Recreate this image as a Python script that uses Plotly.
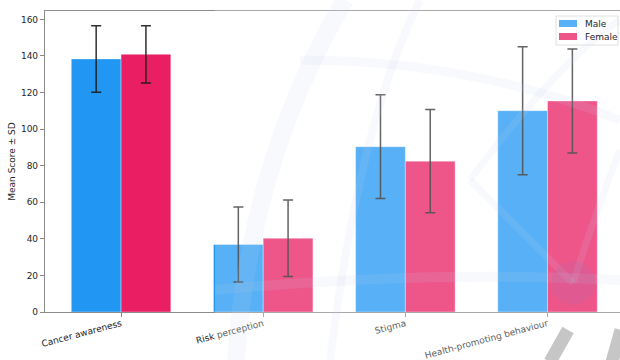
import plotly.graph_objects as go

# Mean scores and standard deviations by gender
categories = ["Cancer awareness", "Risk perception", "Stigma", "Health-promoting behaviour"]
male_mean = [138.4, 36.9, 90.4, 110.1]
male_sd = [18.2, 20.5, 28.4, 35.0]
female_mean = [140.9, 40.3, 82.5, 115.4]
female_sd = [15.7, 20.9, 28.2, 28.4]
series_names = ["Male", "Female"]
series_colors = ["#2196F3", "#E91E63"]

W, H = 620, 360
L, R, T, B = 45, 0, 11, 48
FONT = "DejaVu Sans"
TXT = "#262626"
SPINE = "#8c8c8c"


def px(x, y):
    """Convert pixel position to paper coordinates."""
    pw = W - L - R
    ph = H - T - B
    return (x - L) / pw, (H - B - y) / ph


err_style = dict(type="data", visible=True, color="rgba(25,25,25,0.9)",
                 thickness=1.5, width=5)

fig = go.Figure()
for name, color, mean, sd in zip(series_names, series_colors,
                                 [male_mean, female_mean], [male_sd, female_sd]):
    fig.add_trace(go.Bar(
        name=name, x=categories, y=mean,
        error_y=dict(array=sd, **err_style),
        marker=dict(color=color, line=dict(color="rgba(255,255,255,0.45)", width=0.8)),
        showlegend=False,
    ))

shapes = []
annotations = []

# legend box drawn by hand (wide colour patches)
bx0, by0 = px(556, 16)
bx1, by1 = px(618, 45)
shapes.append(dict(type="rect", xref="paper", yref="paper", x0=bx0, x1=bx1, y0=by1, y1=by0,
                   fillcolor="rgba(255,255,255,0.8)", line=dict(color="#d6d6d6", width=1)))
for i, (name, color) in enumerate(zip(series_names, series_colors)):
    top = 20 + i * 13
    a0, b0 = px(559, top)
    a1, b1 = px(577, top + 7)
    shapes.append(dict(type="rect", xref="paper", yref="paper", x0=a0, x1=a1, y0=b1, y1=b0,
                       fillcolor=color, line=dict(width=0)))
    tx, ty = px(583, top + 3.5)
    annotations.append(dict(xref="paper", yref="paper", x=tx, y=ty, text=name,
                            showarrow=False, xanchor="left", yanchor="middle",
                            font=dict(family=FONT, size=9, color=TXT)))

# faint emblem drawn over the right part of the figure
x0, y0 = px(215, 0)
x1, y1 = px(W, H)
shapes.append(dict(type="rect", xref="paper", yref="paper", x0=x0, x1=x1, y0=y1, y1=y0,
                   fillcolor="white", opacity=0.25, line=dict(width=0), layer="above"))


def path(points, curved=True):
    p = [px(*pt) for pt in points]
    if curved and len(p) == 3:
        return f"M {p[0][0]},{p[0][1]} Q {p[1][0]},{p[1][1]} {p[2][0]},{p[2][1]}"
    return "M " + " L ".join(f"{a},{b}" for a, b in p)


band = "rgba(190,205,230,0.13)"
for pts, w in [
    ([(236, 360), (250, 160), (345, 0)], 18),
    ([(330, 360), (360, 120), (420, 0)], 8),
    ([(215, 290), (420, 270), (620, 280)], 10),
    ([(300, 60), (470, 60), (620, 120)], 9),
    ([(470, 180), (520, 230), (573, 283)], 7),
    ([(573, 283), (600, 200), (620, 150)], 7),
    ([(470, 180), (560, 60), (620, 20)], 7),
]:
    shapes.append(dict(type="path", xref="paper", yref="paper", path=path(pts),
                       line=dict(color=band, width=w), layer="above"))

cx0, cy0 = px(551, 261)
cx1, cy1 = px(595, 305)
shapes.append(dict(type="circle", xref="paper", yref="paper", x0=cx0, x1=cx1, y0=cy1, y1=cy0,
                   fillcolor="rgba(120,120,200,0.12)", line=dict(width=0), layer="above"))
for pts, w in [([(550, 362), (568, 330)], 13), ([(612, 362), (621, 330)], 13)]:
    shapes.append(dict(type="path", xref="paper", yref="paper", path=path(pts, curved=False),
                       line=dict(color="rgba(160,160,160,0.6)", width=w), layer="above"))

fig.update_layout(
    width=W, height=H,
    margin=dict(l=L, r=R, t=T, b=B, pad=0),
    paper_bgcolor="white", plot_bgcolor="white",
    barmode="group", bargap=0.3, bargroupgap=0,
    font=dict(family=FONT, size=9, color=TXT),
    showlegend=False,
    shapes=shapes,
    annotations=annotations,
)
fig.update_xaxes(
    range=[-0.535, 3.51], showline=True, linecolor=SPINE, linewidth=1.2, mirror=True,
    ticks="outside", ticklen=4, tickcolor=SPINE, tickangle=-15, automargin=False,
    ticklabelstandoff=-2,
    tickfont=dict(family=FONT, size=9, color=TXT), showgrid=False, zeroline=False,
)
fig.update_yaxes(
    range=[0, 164.6], tickvals=[0, 20, 40, 60, 80, 100, 120, 140, 160],
    showline=True, linecolor=SPINE, linewidth=1.2, automargin=False,
    ticks="outside", ticklen=4, tickcolor=SPINE,
    tickfont=dict(family=FONT, size=9, color=TXT), showgrid=False, zeroline=False,
    title=dict(text="Mean Score ± SD", font=dict(family=FONT, size=9, color=TXT), standoff=3),
)

fig.write_html("out.html")
